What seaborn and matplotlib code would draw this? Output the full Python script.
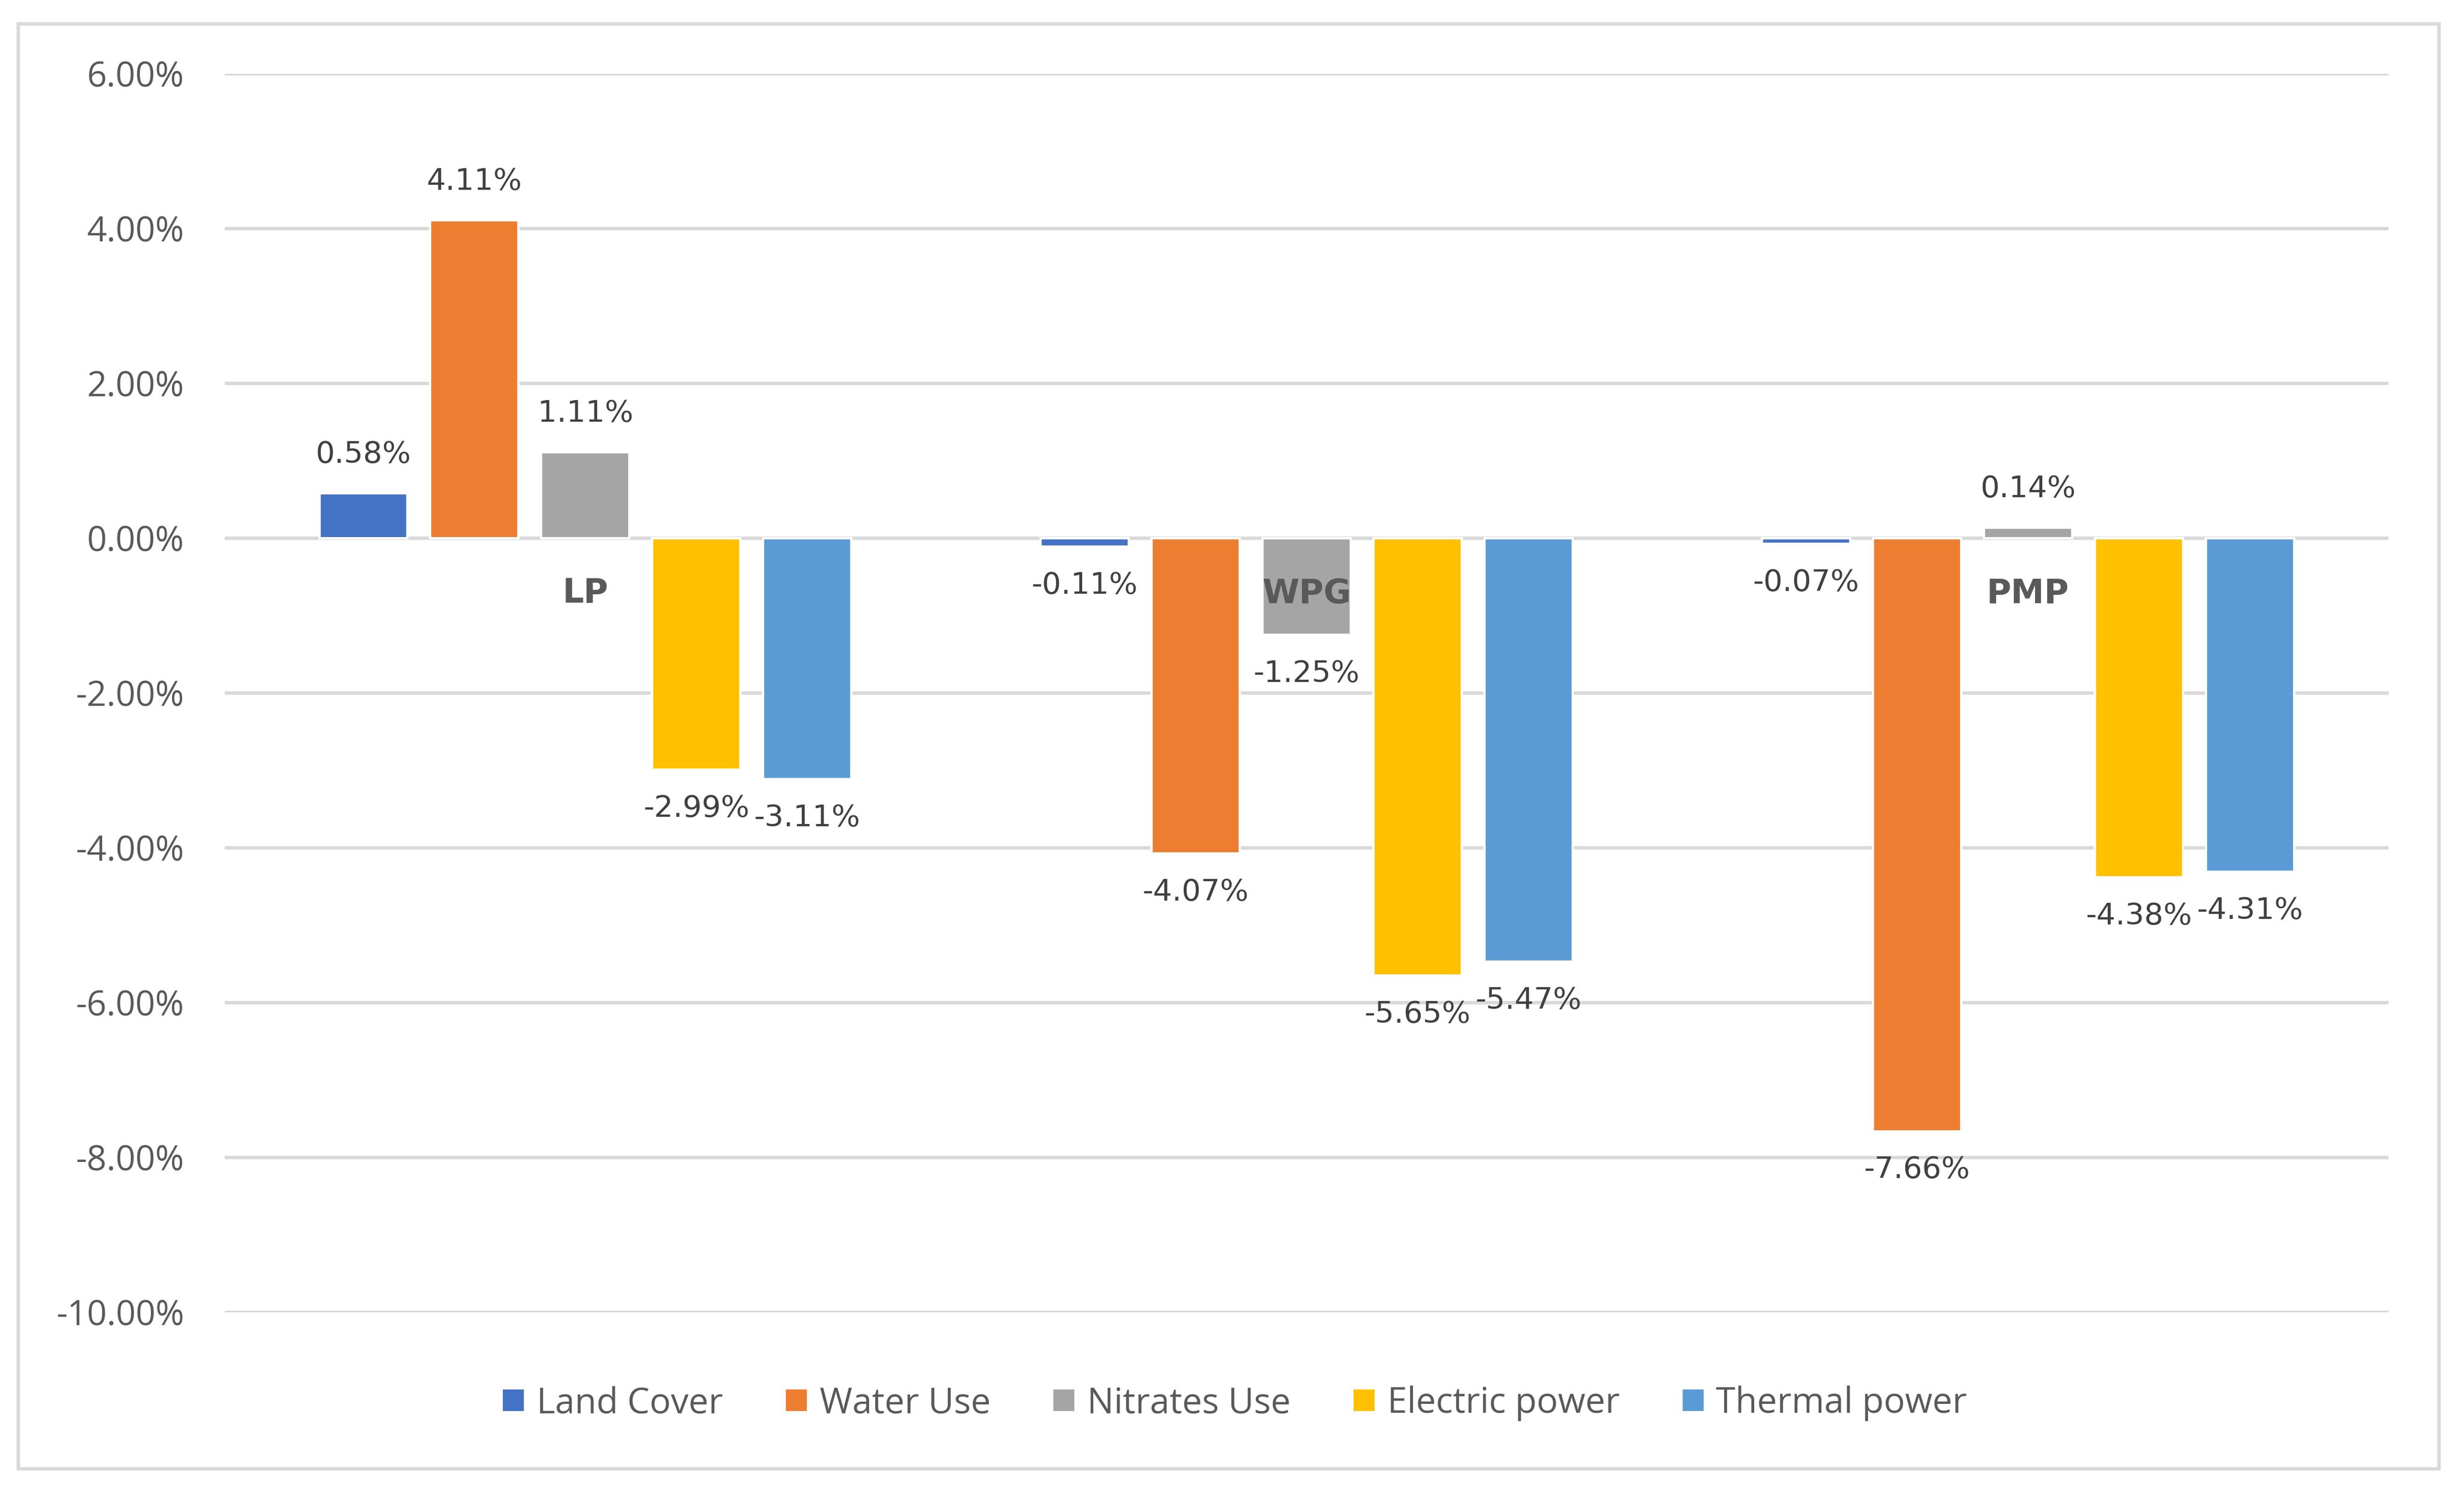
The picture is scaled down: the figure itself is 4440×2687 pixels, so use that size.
# %% imports

import numpy as np
import pandas as pd
import matplotlib.pyplot as plt
import seaborn as sns
from matplotlib.patches import Rectangle
from matplotlib.ticker import FuncFormatter

# %% data

scenarios = ["LP", "WPG", "PMP"]
indicators = ["Land Cover", "Water Use", "Nitrates Use", "Electric power", "Thermal power"]

land_cover = [0.58, -0.11, -0.07]
water_use = [4.11, -4.07, -7.66]
nitrates_use = [1.11, -1.25, 0.14]
electric_power = [-2.99, -5.65, -4.38]
thermal_power = [-3.11, -5.47, -4.31]

y_ticks = [6, 4, 2, 0, -2, -4, -6, -8, -10]

colors = ["#4472C4", "#ED7D31", "#A5A5A5", "#FFC000", "#5B9BD5"]

df = pd.DataFrame({
    "scenario": scenarios * len(indicators),
    "indicator": np.repeat(indicators, len(scenarios)),
    "value": land_cover + water_use + nitrates_use + electric_power + thermal_power,
})

# %% config

sns.set_theme(style="white")
plt.rcParams["font.family"] = ["Open Sans", "DejaVu Sans"]

txt_gray = "#595959"
lbl_gray = "#404040"
grid_gray = "#D9D9D9"

# %% plot

fig = plt.figure(figsize=(14.8, 8.9567), dpi=300)
ax = fig.add_axes([0.0912, 0.1198, 0.8782, 0.8307])

sns.barplot(data=df, x="scenario", y="value", hue="indicator",
            order=scenarios, hue_order=indicators, palette=colors,
            saturation=1, errorbar=None, width=0.769, gap=0.205, ax=ax)

# data labels
for cont in ax.containers:
    ax.bar_label(cont, labels=[f"{v:.2f}%" for v in cont.datavalues],
                 padding=10.5, fontsize=13, color=lbl_gray, family="DejaVu Sans")

ax.set_ylim(-10, 6)
ax.set_yticks(y_ticks)
ax.yaxis.set_major_formatter(FuncFormatter(lambda v, p: f"{v:.2f}%"))
ax.yaxis.grid(True, color=grid_gray, linewidth=1.5)
ax.xaxis.grid(False)
ax.set_axisbelow(True)

# category labels sit on the zero line (drawn over the bars, like excel)
for s in ax.spines.values():
    s.set_visible(False)
ax.spines["bottom"].set_position(("data", 0))
ax.xaxis.set_zorder(5)
ax.tick_params(axis="x", length=0, pad=17, labelsize=14.5, labelcolor=txt_gray)
for t in ax.get_xticklabels():
    t.set_fontweight("bold")
    t.set_family("DejaVu Sans")
ax.tick_params(axis="y", length=0, pad=17.5, labelsize=15, labelcolor=txt_gray)
ax.set_xlabel("")
ax.set_ylabel("")

# legend
handles, labels = ax.get_legend_handles_labels()
ax.get_legend().remove()
fig.legend(handles, labels, loc="center", bbox_to_anchor=(0.501, 0.0588), ncol=5,
           frameon=False, fontsize=15.3, handlelength=0.66, handleheight=0.66,
           handletextpad=0.32, columnspacing=1.75, labelcolor=txt_gray)

# outer border
fig.patches.append(Rectangle((0.0074, 0.0149), 0.9825, 0.9691, transform=fig.transFigure,
                             fill=False, edgecolor=grid_gray, linewidth=1.5))

plt.savefig("out.png", dpi=300)
